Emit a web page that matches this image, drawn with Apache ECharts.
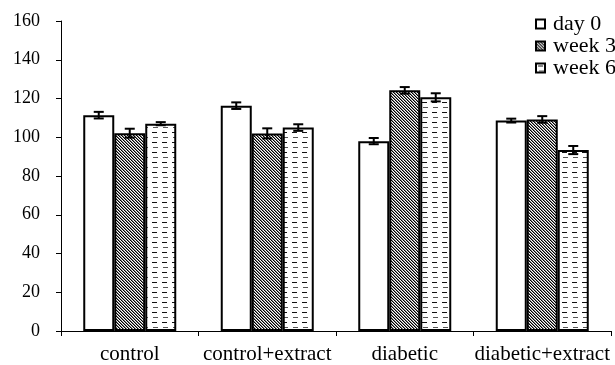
<!DOCTYPE html>
<html>
<head>
<meta charset="utf-8">
<script src="https://cdn.jsdelivr.net/npm/echarts@6/dist/echarts.min.js"></script>
<style>
  html, body { margin: 0; padding: 0; background: #fff; }
  #chart { width: 615px; height: 365px; }
</style>
</head>
<body>
<div id="chart"></div>
<script>
// Groups on the x axis
const categories = ['control', 'control+extract', 'diabetic', 'diabetic+extract'];
// Time points (legend order)
const seriesNames = ['day 0', 'week 3', 'week 6'];
// Mean values per group
const day0 = [111.4, 116.3, 98.0, 108.6];
const week3 = [102.1, 102.0, 124.2, 109.2];
const week6 = [107.0, 105.0, 120.6, 93.4];
// Error (± half-length of each error bar)
const day0Err = [1.7, 1.7, 1.6, 1.0];
const week3Err = [2.3, 2.6, 1.7, 1.7];
const week6Err = [0.8, 1.7, 2.1, 2.1];
// Y axis ticks
const yMin = 0, yMax = 160, yStep = 20;

const BAR_W = 31;

// Fill patterns
function hatchPattern() {
  const c = document.createElement('canvas');
  c.width = 3; c.height = 3;
  const ctx = c.getContext('2d');
  const img = ctx.createImageData(3, 3);
  for (let y = 0; y < 3; y++) {
    for (let x = 0; x < 3; x++) {
      const k = (x + (2 - y)) % 3;
      const v = k === 0 ? 0 : (k === 1 ? 130 : 255);
      const i = (y * 3 + x) * 4;
      img.data[i] = img.data[i + 1] = img.data[i + 2] = v;
      img.data[i + 3] = 255;
    }
  }
  ctx.putImageData(img, 0, 0);
  return c;
}
function dashPattern() {
  const c = document.createElement('canvas');
  c.width = 10; c.height = 10;
  const ctx = c.getContext('2d');
  ctx.fillStyle = '#fff';
  ctx.fillRect(0, 0, 10, 10);
  ctx.fillStyle = '#111';
  ctx.fillRect(2, 2, 5, 1);
  ctx.fillStyle = '#555';
  ctx.fillRect(3, 7, 5, 1);
  return c;
}

const fills = [
  '#ffffff',
  { image: hatchPattern(), repeat: 'repeat' },
  { image: dashPattern(), repeat: 'repeat' }
];
const means = [day0, week3, week6];
const errs = [day0Err, week3Err, week6Err];

const barSeries = seriesNames.map((name, s) => ({
  name: name,
  type: 'bar',
  barWidth: BAR_W,
  barGap: '0%',
  data: means[s],
  itemStyle: { color: fills[s], borderColor: '#000', borderWidth: 2 },
  emphasis: { disabled: true },
  z: 2
}));

// Error bar records: [categoryIndex, mean, err, seriesIndex]
const errData = [];
for (let s = 0; s < 3; s++) {
  for (let c = 0; c < categories.length; c++) {
    errData.push([c, means[s][c], errs[s][c], s]);
  }
}

const errorSeries = {
  type: 'custom',
  name: 'err',
  data: errData,
  encode: { x: 0, y: 1 },
  z: 5,
  silent: true,
  renderItem: function (params, api) {
    const c = api.value(0), m = api.value(1), e = api.value(2), s = api.value(3);
    const off = (s - 1) * BAR_W;
    const top = api.coord([c, m + e]);
    const bot = api.coord([c, m - e]);
    const x = top[0] + off;
    const cap = 5;
    const st = { stroke: '#000', lineWidth: 2 };
    return {
      type: 'group',
      children: [
        { type: 'line', shape: { x1: x, y1: top[1], x2: x, y2: bot[1] }, style: st },
        { type: 'line', shape: { x1: x - cap, y1: top[1], x2: x + cap, y2: top[1] }, style: st },
        { type: 'line', shape: { x1: x - cap, y1: bot[1], x2: x + cap, y2: bot[1] }, style: st }
      ]
    };
  }
};

const chart = echarts.init(document.getElementById('chart'), null, { renderer: 'canvas' });
chart.setOption({
  animation: false,
  backgroundColor: '#fff',
  textStyle: { fontFamily: 'Liberation Serif', color: '#000' },
  grid: { left: 61, right: 4, top: 21, bottom: 32, containLabel: false },
  legend: {
    data: seriesNames,
    orient: 'vertical',
    left: 535,
    top: 13,
    itemWidth: 9,
    itemHeight: 9,
    itemGap: 0,
    icon: 'rect',
    textStyle: { fontFamily: 'Liberation Serif', fontSize: 22, color: '#000', lineHeight: 21, padding: [0, 0, 0, 3] },
    itemStyle: { borderColor: '#000', borderWidth: 2 },
    padding: 0
  },
  xAxis: {
    type: 'category',
    data: categories,
    axisLine: { lineStyle: { color: '#000', width: 1 } },
    axisTick: { show: true, alignWithLabel: false, length: 5, lineStyle: { color: '#000' } },
    axisLabel: { fontFamily: 'Liberation Serif', fontSize: 21, color: '#000', margin: 13, interval: 0 },
    splitLine: { show: false }
  },
  yAxis: {
    type: 'value',
    min: yMin,
    max: yMax,
    interval: yStep,
    axisLine: { show: true, lineStyle: { color: '#000', width: 1 } },
    axisTick: { show: true, length: 5, lineStyle: { color: '#000' } },
    axisLabel: { fontFamily: 'Liberation Serif', fontSize: 18, color: '#000', margin: 21 },
    splitLine: { show: false }
  },
  series: barSeries.concat([errorSeries])
});
</script>
</body>
</html>
